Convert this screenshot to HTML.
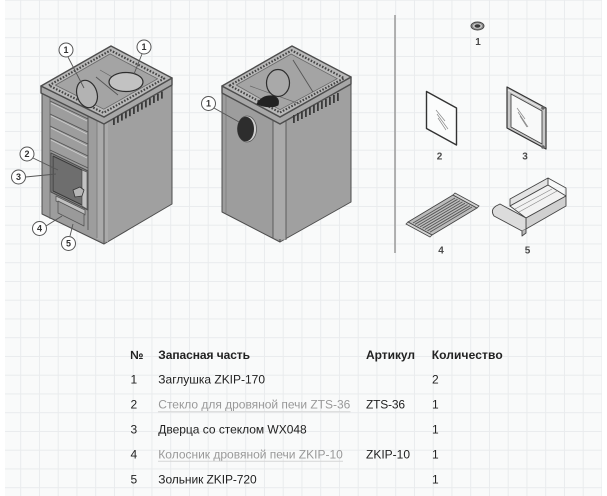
<!DOCTYPE html>
<html>
<head>
<meta charset="utf-8">
<style>
html,body{margin:0;padding:0;background:#fff;}
svg{display:block;}
text{font-family:"Liberation Sans","DejaVu Sans",sans-serif;}
</style>
</head>
<body>
<svg width="607" height="496" viewBox="0 0 607 496" xmlns="http://www.w3.org/2000/svg">
<defs>
<pattern id="grid" patternUnits="userSpaceOnUse" x="20.2" y="-0.3" width="18.75" height="18.75">
<path d="M0 0.5H18.75M0.5 0V18.75" stroke="#e9ebed" stroke-width="1" fill="none"/>
</pattern>
</defs>
<rect x="0" y="0" width="607" height="496" fill="#ffffff"/>
<rect x="5" y="0" width="597" height="496" fill="#f9fafa"/>
<rect x="5" y="0" width="597" height="496" fill="url(#grid)"/>

<!-- ============ STOVE 1 ============ -->
<g stroke="#4d4d4d" stroke-width="1" stroke-linejoin="round">
  <polygon points="42,93 104,124 104,244 42,214" fill="#9d9d9d"/>
  <polygon points="104,124 172,85 172,204 104,244" fill="#a0a0a0"/>
  <polygon points="97,121 108,122 108,242 97,239" fill="#aaaaaa" stroke="none"/>
  <line x1="104" y1="124" x2="104" y2="244" stroke="#555"/>
  <line x1="97" y1="121" x2="97" y2="238" stroke="#777" stroke-width="0.8"/>
  <line x1="50" y1="98" x2="50" y2="219" stroke="#666" stroke-width="0.8"/>
  <line x1="88" y1="113" x2="88" y2="230" stroke="#555" stroke-width="0.9"/>
  <g stroke="#555" stroke-width="0.9" fill="none">
    <line x1="50" y1="101" x2="88" y2="119"/>
    <line x1="50" y1="114" x2="88" y2="132"/>
    <line x1="50" y1="126" x2="88" y2="144"/>
    <line x1="50" y1="138" x2="88" y2="156"/>
    <line x1="50" y1="150" x2="88" y2="168"/>
  </g>
  <g stroke="#cfcfcf" stroke-width="0.8" fill="none">
    <line x1="51" y1="103" x2="87" y2="121"/>
    <line x1="51" y1="116" x2="87" y2="134"/>
    <line x1="51" y1="128" x2="87" y2="146"/>
    <line x1="51" y1="140" x2="87" y2="158"/>
  </g>
  <polygon points="51,153 88,171 88,210 51,192" fill="#8a8a8a"/>
  <polygon points="53,156 82,170 82,205 53,191" fill="#6e6e6e" stroke="#3a3a3a"/>
  <polygon points="82,170 87,172 87,209 82,206" fill="#c2c2c2" stroke="#555" stroke-width="0.7"/>
  <path d="M73,190 L80,187 L84,190 L82,196 L75,197 Z" fill="#b5b5b5" stroke="#333" stroke-width="0.8"/>
  <polygon points="56,196 85,210 85,215 56,201" fill="#c0c0c0" stroke="#555" stroke-width="0.8"/>
  <polygon points="58,201 84,214 84,226 58,213" fill="#9a9a9a" stroke="#555" stroke-width="0.8"/>
  <polygon points="41,86 104,117 172,78 172,85 104,124 41,93" fill="#a7a7a7" stroke-width="1.4"/>
  <polygon points="41,86 111,46 172,78 104,117" fill="#b9b9b9" stroke-width="1.4"/>
  <polygon points="55.4,85.1 110.1,53.9 157.6,78.8 103.8,109.2" fill="#a4a4a4" stroke="#666" stroke-width="0.8"/>
  <polygon points="48.9,85.5 110.5,50.3 164.2,78.45 103.45,112.8" fill="none" stroke="#444" stroke-width="2.2" stroke-dasharray="1.6 1.6"/>
  <line x1="96" y1="77" x2="118" y2="95" stroke="#555" stroke-width="0.9"/>
  <line x1="100" y1="70" x2="135" y2="90" stroke="#666" stroke-width="0.7"/>
  <ellipse cx="87" cy="94" rx="10" ry="14" transform="rotate(-18 87 94)" fill="#b3b3b3" stroke="#2e2e2e" stroke-width="1.2"/>
  <ellipse cx="126" cy="82" rx="17" ry="9.5" fill="#c2c2c2" stroke="#2e2e2e" stroke-width="1.2"/>
  <g fill="#3a3a3a" stroke="none">
    <rect x="113" y="118" width="1.8" height="7"/>
    <rect x="117" y="115.8" width="1.8" height="7"/>
    <rect x="121" y="113.6" width="1.8" height="7"/>
    <rect x="125" y="111.4" width="1.8" height="7"/>
    <rect x="129" y="109.2" width="1.8" height="7"/>
    <rect x="133" y="107" width="1.8" height="7"/>
    <rect x="137" y="104.8" width="1.8" height="7"/>
    <rect x="141" y="102.6" width="1.8" height="7"/>
    <rect x="145" y="100.4" width="1.8" height="7"/>
    <rect x="149" y="98.2" width="1.8" height="7"/>
    <rect x="153" y="96" width="1.8" height="7"/>
    <rect x="157" y="93.8" width="1.8" height="7"/>
    <rect x="161" y="91.6" width="1.8" height="7"/>
  </g>
</g>
<g stroke="#555" stroke-width="0.9" fill="none">
  <line x1="68" y1="57" x2="84" y2="88"/>
  <line x1="142" y1="54" x2="134" y2="74"/>
  <line x1="33" y1="158" x2="58" y2="170"/>
  <line x1="25.5" y1="177" x2="56" y2="174"/>
  <line x1="46" y1="226" x2="62" y2="216"/>
  <line x1="70" y1="236" x2="73" y2="224"/>
</g>
<g fill="#ffffff" stroke="#555" stroke-width="1">
  <circle cx="66" cy="50" r="7"/>
  <circle cx="144" cy="47" r="7"/>
  <circle cx="27" cy="154" r="7"/>
  <circle cx="18.5" cy="177" r="7"/>
  <circle cx="39.5" cy="228.5" r="7"/>
  <circle cx="68.5" cy="243.5" r="7"/>
  <circle cx="208.5" cy="103.5" r="7"/>
</g>
<g font-size="9" font-weight="bold" fill="#333" text-anchor="middle">
  <text x="66" y="53.2">1</text>
  <text x="144" y="50.2">1</text>
  <text x="27" y="157.2">2</text>
  <text x="18.5" y="180.2">3</text>
  <text x="39.5" y="231.7">4</text>
  <text x="68.5" y="246.7">5</text>
  <text x="208.5" y="106.7">1</text>
</g>

<!-- ============ STOVE 2 ============ -->
<g stroke="#4d4d4d" stroke-width="1" stroke-linejoin="round">
  <polygon points="222,93 280,124 280,242 222,212" fill="#9d9d9d"/>
  <polygon points="280,124 351,84 351,202 280,242" fill="#a0a0a0"/>
  <polygon points="273,120 286,120 286,240 273,238" fill="#aaaaaa" stroke="none"/>
  <line x1="273" y1="120" x2="273" y2="238" stroke="#555" stroke-width="0.9"/>
  <line x1="286" y1="120" x2="286" y2="240" stroke="#555" stroke-width="0.9"/>
  <line x1="226" y1="96" x2="226" y2="213" stroke="#777" stroke-width="0.7"/>
  <ellipse cx="247" cy="129" rx="9.5" ry="13" fill="#cfcfcf" stroke="#555" stroke-width="0.8"/>
  <ellipse cx="245.7" cy="129" rx="8.3" ry="12.3" fill="#2d2d2d" stroke="none"/>
  <polygon points="222,86 280,117 351,77 351,84 280,124 222,93" fill="#a7a7a7" stroke-width="1.4"/>
  <polygon points="222,86 292,46 351,77 280,117" fill="#b9b9b9" stroke-width="1.4"/>
  <polygon points="236.2,85 291.1,54 337.3,78.7 280,109.7" fill="#a4a4a4" stroke="#666" stroke-width="0.8"/>
  <polygon points="229.7,85.5 291.7,50.4 344.1,78.2 279.9,112.5" fill="none" stroke="#444" stroke-width="2.2" stroke-dasharray="1.6 1.6"/>
  <line x1="293" y1="60" x2="313" y2="92" stroke="#555" stroke-width="0.9"/>
  <line x1="250" y1="86" x2="300" y2="104" stroke="#666" stroke-width="0.7"/>
  <ellipse cx="278" cy="83" rx="11.5" ry="13.5" fill="#a9a9a9" stroke="#2e2e2e" stroke-width="1.2"/>
  <path d="M257,104 Q262,95 273,96 Q280,98 278,105 Q270,109 257,104 Z" fill="#222" stroke="#222"/>
  <g fill="#3a3a3a" stroke="none">
    <rect x="293" y="115" width="1.8" height="8"/>
    <rect x="297" y="113" width="1.8" height="8"/>
    <rect x="301" y="111" width="1.8" height="8"/>
    <rect x="305" y="109" width="1.8" height="8"/>
    <rect x="309" y="107" width="1.8" height="8"/>
    <rect x="313" y="105" width="1.8" height="8"/>
    <rect x="317" y="103" width="1.8" height="8"/>
    <rect x="321" y="101" width="1.8" height="8"/>
    <rect x="325" y="99" width="1.8" height="8"/>
    <rect x="329" y="97" width="1.8" height="8"/>
    <rect x="333" y="95" width="1.8" height="8"/>
    <rect x="337" y="93" width="1.8" height="8"/>
  </g>
</g>
<line x1="214" y1="108" x2="239" y2="122" stroke="#555" stroke-width="0.9"/>

<!-- ============ PARTS PANEL ============ -->
<line x1="395" y1="15" x2="395" y2="253" stroke="#9a9a9a" stroke-width="1.5"/>

<ellipse cx="477.5" cy="26" rx="6.5" ry="4" fill="#8a8a8a" stroke="#444" stroke-width="0.9"/>
<ellipse cx="477.5" cy="26" rx="4.5" ry="2.6" fill="#cfcfcf" stroke="none"/>
<ellipse cx="477.5" cy="26" rx="3" ry="1.7" fill="#3a3a3a" stroke="none"/>

<path d="M426.5,91.5 L456.5,108 L456.5,145 L426.5,128.5 Z" fill="#fbfcfc" stroke="#333" stroke-width="1.4" stroke-linejoin="round"/>
<g stroke="#888" stroke-width="0.7">
  <line x1="436" y1="110" x2="445" y2="121"/>
  <line x1="437" y1="114" x2="448" y2="129"/>
  <line x1="438" y1="118" x2="446" y2="130"/>
</g>

<path d="M507,87 L546,108 L546,149 L507,128 Z" fill="#c8c8c8" stroke="#333" stroke-width="1.2" stroke-linejoin="round"/>
<path d="M511,94 L542,111 L542,144 L511,127 Z" fill="#f8f9f9" stroke="#444" stroke-width="0.9"/>
<g stroke="#888" stroke-width="0.7">
  <line x1="517" y1="108" x2="525" y2="119"/>
  <line x1="518" y1="112" x2="528" y2="127"/>
  <line x1="520" y1="116" x2="527" y2="127"/>
</g>
<line x1="508" y1="90" x2="545" y2="110" stroke="#eee" stroke-width="0.8"/>
<circle cx="543" cy="108" r="1.8" fill="#666"/>
<circle cx="543" cy="147" r="1.8" fill="#666"/>

<path d="M408,222 L453,195 L477,208 L432,235 Z" fill="#bcbcbc" stroke="#444" stroke-width="0.9" stroke-linejoin="round"/>
<g stroke="#555" stroke-width="0.9">
  <line x1="413" y1="223" x2="455" y2="198"/>
  <line x1="415" y1="224.3" x2="457.5" y2="199.3"/>
  <line x1="417.5" y1="225.6" x2="460" y2="200.6"/>
  <line x1="420" y1="226.9" x2="462.5" y2="201.9"/>
  <line x1="422.5" y1="228.2" x2="465" y2="203.2"/>
  <line x1="425" y1="229.5" x2="467.5" y2="204.5"/>
  <line x1="427.5" y1="230.8" x2="470" y2="205.8"/>
  <line x1="430" y1="232.1" x2="472" y2="207"/>
</g>
<path d="M408,222 L432,235 L430,237 L406,224 Z" fill="#d5d5d5" stroke="#444" stroke-width="0.8"/>
<path d="M453,195 L477,208 L479,206 L455,193 Z" fill="#d5d5d5" stroke="#444" stroke-width="0.8"/>

<g stroke="#444" stroke-width="0.9" stroke-linejoin="round">
  <path d="M510,206 L548,185 L548,178 L510,199 Z" fill="#e3e3e3"/>
  <path d="M510,206 L548,185 L566,196 L526,218 Z" fill="#f2f2f2"/>
  <path d="M526,218 L566,196 L566,206 L526,229 Z" fill="#d0d0d0"/>
  <path d="M548,178 L566,188 L566,196" fill="none"/>
  <line x1="515" y1="209" x2="552" y2="189" stroke="#888" stroke-width="0.7"/>
  <line x1="519" y1="212" x2="557" y2="191" stroke="#888" stroke-width="0.7"/>
  <path d="M496,206 Q490,210 494,216 L522,231 L526,229 L526,218 L500,204 Z" fill="#dcdcdc"/>
  <path d="M522,231 L522,236 L526,233 L526,229" fill="#bbb"/>
</g>

<g font-size="10" font-weight="bold" fill="#4a4a4a" text-anchor="middle">
  <text x="478" y="45">1</text>
  <text x="439.5" y="159.5">2</text>
  <text x="525" y="159.5">3</text>
  <text x="441" y="253.5">4</text>
  <text x="527.5" y="253.5">5</text>
</g>

<!-- ============ TABLE ============ -->
<g font-size="12" fill="#222">
  <g font-weight="bold">
    <text x="130" y="359">№</text>
    <text x="158.3" y="359" textLength="91.7" lengthAdjust="spacing">Запасная часть</text>
    <text x="366" y="359" textLength="49" lengthAdjust="spacing">Артикул</text>
    <text x="431.7" y="359" textLength="71" lengthAdjust="spacing">Количество</text>
  </g>
  <text x="130.5" y="383.5">1</text>
  <text x="158.3" y="383.5" textLength="106.7" lengthAdjust="spacing">Заглушка ZKIP-170</text>
  <text x="432" y="383.5">2</text>

  <text x="130.5" y="408.7">2</text>
  <text x="158.3" y="408.7" fill="#999" textLength="192" lengthAdjust="spacing">Стекло для дровяной печи ZTS-36</text>
  <text x="366" y="408.7" textLength="39" lengthAdjust="spacing">ZTS-36</text>
  <text x="432" y="408.7">1</text>

  <text x="130.5" y="433.7">3</text>
  <text x="158.3" y="433.7" textLength="148.4" lengthAdjust="spacing">Дверца со стеклом WX048</text>
  <text x="432" y="433.7">1</text>

  <text x="130.5" y="458.5">4</text>
  <text x="158.3" y="458.5" fill="#999" textLength="184.5" lengthAdjust="spacing">Колосник дровяной печи ZKIP-10</text>
  <text x="366" y="458.5" textLength="44" lengthAdjust="spacing">ZKIP-10</text>
  <text x="432" y="458.5">1</text>

  <text x="130.5" y="483.7">5</text>
  <text x="158.3" y="483.7" textLength="98.4" lengthAdjust="spacing">Зольник ZKIP-720</text>
  <text x="432" y="483.7">1</text>
</g>
<line x1="158" y1="411.8" x2="350.5" y2="411.8" stroke="#d6d6d6" stroke-width="1"/>
<line x1="158" y1="461.3" x2="343" y2="461.3" stroke="#d6d6d6" stroke-width="1"/>
</svg>
</body>
</html>
